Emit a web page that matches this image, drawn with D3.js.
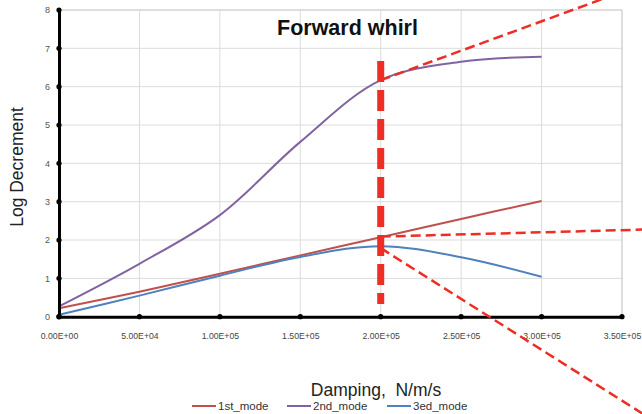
<!DOCTYPE html>
<html>
<head>
<meta charset="utf-8">
<script src="https://cdn.jsdelivr.net/npm/d3@7"></script>
<style>
  html, body { margin: 0; padding: 0; background: #fff; }
  svg { display: block; font-family: "Liberation Sans", Arial, sans-serif; }
</style>
</head>
<body>
<svg id="chart" width="642" height="414"></svg>
<script>
// Damping sweep (N/m/s) and log decrement per mode
const damping = [0, 50000, 100000, 150000, 200000, 250000, 300000];
const mode1 = [0.22, 0.65, 1.12, 1.60, 2.07, 2.55, 3.02];
const mode2 = [0.27, 1.38, 2.65, 4.56, 6.17, 6.65, 6.78];
const mode3 = [0.05, 0.55, 1.07, 1.56, 1.84, 1.55, 1.04];
const seriesNames = ["1st_mode", "2nd_mode", "3ed_mode"];
const seriesColors = ["#c0504d", "#8064a2", "#4f81bd"];

const xTicks = [0, 50000, 100000, 150000, 200000, 250000, 300000, 350000];
const xTickLabels = ["0.00E+00", "5.00E+04", "1.00E+05", "1.50E+05", "2.00E+05", "2.50E+05", "3.00E+05", "3.50E+05"];
const yTicks = [0, 1, 2, 3, 4, 5, 6, 7, 8];

// Annotation: selected damping value and tangent/trend extrapolations
const markerX = [200000, 200000];
const markerY = [0.33, 6.67];
const trendUpper = [[200000, 6.17], [370000, 8.78]];
const trendMiddle = [[200000, 2.09], [370000, 2.28]];
const trendLower = [[200000, 1.79], [370000, -2.72]];

const title = "Forward whirl";
const xTitle = "Damping,  N/m/s";
const yTitle = "Log Decrement";

const svg = d3.select("#chart");
const x = d3.scaleLinear().domain([0, 350000]).range([59, 622]);
const y = d3.scaleLinear().domain([0, 8]).range([316.7, 10]);

// Gridlines
const grid = svg.append("g");
grid.selectAll("line.h").data(yTicks.slice(1)).join("line")
  .attr("x1", x(0)).attr("x2", x(350000))
  .attr("y1", d => y(d)).attr("y2", d => y(d))
  .attr("stroke", d => d === 8 ? "#bdbdbd" : "#dcdcdc").attr("stroke-width", 1);
grid.selectAll("line.v").data(xTicks.slice(1)).join("line")
  .attr("y1", y(0)).attr("y2", y(8))
  .attr("x1", d => x(d)).attr("x2", d => x(d))
  .attr("stroke", d => d === 350000 ? "#bdbdbd" : "#dcdcdc").attr("stroke-width", 1);

// Series lines
const seriesData = [mode1, mode2, mode3];
const line = d3.line().x(d => x(d[0])).y(d => y(d[1])).curve(d3.curveCatmullRom.alpha(0.5));
seriesData.forEach((vals, i) => {
  svg.append("path")
    .datum(damping.map((d, j) => [d, vals[j]]))
    .attr("d", line)
    .attr("fill", "none")
    .attr("stroke", seriesColors[i])
    .attr("stroke-width", 2);
});

// Axes
const yAxis = d3.axisLeft(y).tickValues(yTicks).tickSize(0).tickPadding(9).tickFormat(d3.format("d"));
const gy = svg.append("g").attr("transform", `translate(${x(0)},0)`).call(yAxis);
gy.select(".domain").attr("stroke", "#000").attr("stroke-width", 3);
gy.selectAll("text").attr("font-size", 9).attr("fill", "#555");

const xAxis = d3.axisBottom(x).tickValues(xTicks).tickSize(0).tickPadding(16)
  .tickFormat((d, i) => xTickLabels[i]);
const gx = svg.append("g").attr("transform", `translate(0,${y(0)})`).call(xAxis);
gx.select(".domain").attr("stroke", "#000").attr("stroke-width", 3);
gx.selectAll("text").attr("font-size", 8.7).attr("fill", "#444");

// Tick dots on axes
svg.append("g").selectAll("circle").data(yTicks).join("circle")
  .attr("cx", x(0)).attr("cy", d => y(d)).attr("r", 2.6).attr("fill", "#000");
svg.append("g").selectAll("circle").data(xTicks).join("circle")
  .attr("cx", d => x(d)).attr("cy", y(0)).attr("r", 2.6).attr("fill", "#000");

// Annotations
const red = "#ee2d24";
svg.append("line")
  .attr("x1", x(markerX[0])).attr("x2", x(markerX[1]))
  .attr("y1", y(markerY[1])).attr("y2", y(markerY[0]))
  .attr("stroke", red).attr("stroke-width", 7).attr("stroke-dasharray", "21 8");
const straight = d3.line().x(d => x(d[0])).y(d => y(d[1]));
[trendUpper, trendMiddle, trendLower].forEach(seg => {
  svg.append("path").datum(seg).attr("d", straight)
    .attr("fill", "none").attr("stroke", red)
    .attr("stroke-width", 2.5).attr("stroke-dasharray", "10 5");
});

// Titles
svg.append("text").attr("x", 277).attr("y", 35)
  .attr("font-size", 21.5).attr("font-weight", "bold").attr("fill", "#111").text(title);
svg.append("text").attr("x", 376).attr("y", 396).attr("text-anchor", "middle")
  .attr("font-size", 17.5).attr("fill", "#222").attr("xml:space", "preserve")
  .style("white-space", "pre").text(xTitle);
svg.append("text").attr("transform", "translate(23,167) rotate(-90)")
  .attr("text-anchor", "middle").attr("font-size", 17.5).attr("fill", "#222").text(yTitle);

// Legend
const legendX = [192, 287, 387];
const legend = svg.append("g");
seriesNames.forEach((name, i) => {
  legend.append("line").attr("x1", legendX[i]).attr("x2", legendX[i] + 24)
    .attr("y1", 406).attr("y2", 406).attr("stroke", seriesColors[i]).attr("stroke-width", 2);
  legend.append("text").attr("x", legendX[i] + 26).attr("y", 409.5)
    .attr("font-size", 11.5).attr("fill", "#333").text(name);
});
</script>
</body>
</html>
